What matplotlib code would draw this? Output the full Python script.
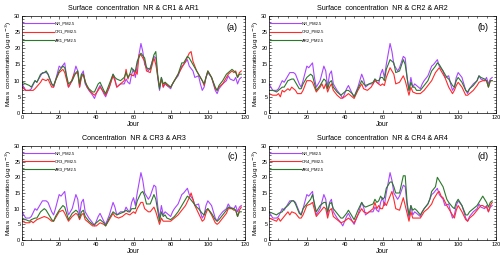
import matplotlib.pyplot as plt
from matplotlib.ticker import MultipleLocator

plt.rcParams['font.family'] = ['Liberation Sans', 'DejaVu Sans']

# ── data (day, value) ───────────────────────────────────────────────────
nr_days = [0, 2, 4, 5, 7, 8, 11, 13, 14, 16, 17, 18, 20, 21, 23, 24, 25, 27, 29, 30,
           31, 32, 33, 34, 36, 38, 39, 41, 42, 44, 45, 47, 49, 50, 51, 53, 55, 56, 57, 58,
           59, 60, 61, 62, 64, 65, 66, 68, 69, 71, 72, 73, 74, 75, 76, 77, 78, 80, 81, 82,
           84, 86, 87, 89, 90, 92, 93, 95, 96, 97, 98, 99, 100, 102, 104, 105, 106, 108,
           110, 111, 112, 114, 115, 116, 117, 118]
nr_vals = [9, 7, 7, 7.5, 10, 9.5, 12.5, 12.5, 12, 9, 8, 10, 14.5, 14, 15.5, 11, 8, 10, 14.5, 13,
           8, 12, 13, 9, 7, 5.5, 4.5, 7.5, 8.5, 6, 5, 8, 12, 10.5, 8, 9, 9, 10.5, 9.5, 9,
           12, 13.5, 11, 15, 21.5, 19, 15, 13, 14, 17.5, 17, 11, 7, 11, 8, 9, 8.5, 7.5, 9, 10,
           11.5, 14.5, 15, 16.5, 14.5, 13, 11, 11.5, 9, 7, 8, 11, 12.5, 11, 7, 6, 7.5, 9,
           10, 11.5, 10.5, 10, 11, 9, 10.5, 11]

cr1_days = [0, 2, 6, 7, 10, 11, 13, 14, 16, 17, 18, 20, 22, 23, 25, 26, 28, 30, 31, 32,
            33, 35, 37, 39, 41, 42, 44, 45, 47, 49, 50, 51, 53, 55, 56, 57, 58, 60, 61, 62,
            63, 64, 66, 67, 69, 71, 72, 74, 75, 76, 77, 78, 80, 82, 83, 84, 86, 87, 88, 90,
            91, 92, 94, 95, 97, 98, 99, 100, 102, 104, 105, 106, 108, 110, 111, 113, 114,
            115, 116, 117, 118]
cr1_vals = [8, 7, 7, 7.5, 9.5, 10.5, 10, 10.5, 8, 8, 10, 12.5, 13.5, 12.5, 8, 9, 12, 12.5, 8, 11,
            12, 8, 6.5, 5.5, 7, 8, 6.5, 5.5, 8, 11.5, 10, 8, 9, 10, 13.5, 10.5, 12, 11.5, 13, 12,
            18, 18, 16, 13, 12.5, 17, 15, 8, 10.5, 8, 9.5, 8.5, 8, 10, 11, 12, 14, 15, 16, 18.5,
            19, 16, 13, 12, 10, 8.5, 11, 13, 11, 7.5, 7, 8, 9, 11, 12, 13, 12.5,
            13, 11, 12.5, 13]

ar1_days = [0, 2, 4, 5, 7, 8, 10, 12, 13, 14, 16, 17, 18, 20, 22, 23, 25, 27, 29, 30,
            31, 32, 33, 34, 36, 38, 39, 41, 42, 44, 45, 47, 49, 50, 51, 53, 55, 56, 57, 58,
            59, 60, 61, 62, 64, 66, 67, 69, 71, 72, 73, 74, 75, 76, 77, 78, 80, 82, 83, 84,
            86, 87, 89, 90, 92, 94, 95, 97, 98, 99, 100, 102, 104, 105, 106, 108, 110, 111,
            113, 114, 115, 116, 117, 118]
ar1_vals = [9.5, 9, 8.5, 8, 10, 9.5, 12, 12.5, 13, 12, 9, 8.5, 10, 13, 14.5, 14, 9, 10, 12.5, 13,
            9, 12, 12, 9.5, 7.5, 6.5, 6.5, 9, 9.5, 7, 6, 9, 12, 11, 10.5, 10, 11, 12.5, 11, 12,
            14, 13, 13, 16, 18.5, 17, 14, 13.5, 18, 19, 12, 7.5, 11, 9, 9.5, 9, 8, 10, 11, 12,
            15.5, 15.5, 17.5, 17, 15, 13, 12, 10, 9, 11, 13, 11, 8, 7, 8.5, 10, 12, 12.5,
            13.5, 13, 12.5, 11, 12, 12]

cr2_days = [0, 2, 4, 5, 6, 7, 8, 10, 11, 12, 14, 15, 17, 18, 20, 22, 23, 25, 27, 28,
            29, 30, 31, 32, 33, 34, 36, 38, 40, 42, 44, 45, 47, 49, 50, 52, 54, 55, 56, 58,
            59, 60, 61, 62, 64, 66, 67, 69, 71, 72, 74, 75, 76, 78, 80, 82, 84, 86, 88, 90,
            91, 93, 95, 97, 98, 99, 100, 102, 104, 105, 106, 108, 110, 111, 113, 114, 115,
            116, 117, 118]
cr2_vals = [6, 5.5, 5.5, 6, 5, 7, 6.5, 7.5, 7, 8, 7, 6, 6, 7, 10, 10, 9.5, 6.5, 8, 9,
            7.5, 9, 6.5, 8, 9, 7, 5.5, 4.5, 5, 6, 5, 4.5, 7, 9, 7.5, 7, 8, 9, 10, 9,
            8.5, 9, 8.5, 11, 14, 12, 9, 9.5, 11.5, 10, 5.5, 8, 6.5, 6, 6, 7, 8.5, 10, 12.5, 14,
            13, 11, 8, 6, 7, 8.5, 9.5, 8, 5.5, 5.5, 6, 7, 8.5, 9.5, 10, 10, 10,
            8, 10, 10]

ar2_days = [0, 2, 4, 5, 7, 8, 10, 12, 13, 14, 16, 17, 18, 20, 22, 23, 25, 27, 29, 30,
            31, 32, 33, 34, 36, 38, 39, 41, 42, 44, 45, 47, 49, 50, 51, 53, 55, 56, 57, 58,
            59, 60, 61, 62, 64, 66, 67, 69, 71, 72, 74, 75, 76, 77, 78, 80, 82, 84, 86, 88,
            89, 90, 92, 94, 95, 97, 98, 99, 100, 102, 104, 105, 106, 108, 110, 111, 112, 114,
            115, 116, 117, 118]
ar2_vals = [7, 7, 6.5, 7, 8, 8, 10, 10.5, 10.5, 9.5, 7.5, 7.5, 9, 11, 12, 11.5, 7, 8.5, 10.5, 10,
            7.5, 9.5, 10, 8, 6.5, 5.5, 6, 7, 7, 6, 5, 7.5, 10, 9, 8.5, 9, 9.5, 10.5, 10, 10,
            11, 11, 10, 13.5, 16.5, 15.5, 12.5, 13, 16.5, 15, 7, 9.5, 8, 8, 7, 7, 8.5, 10, 13, 14.5,
            15.5, 15, 13, 11, 10.5, 8.5, 8, 10, 11, 9.5, 7, 6.5, 7.5, 8.5, 10, 11.5, 11, 10.5,
            10, 8, 10, 10]

cr3_days = [0, 2, 4, 5, 6, 8, 10, 12, 14, 16, 17, 18, 20, 22, 23, 25, 27, 29, 30, 31,
            32, 33, 34, 36, 38, 40, 42, 44, 45, 47, 49, 50, 52, 54, 55, 56, 58, 59, 60, 61,
            62, 64, 65, 66, 68, 69, 71, 72, 74, 75, 76, 78, 80, 82, 84, 86, 88, 90, 91, 92,
            93, 95, 97, 98, 99, 100, 102, 104, 105, 106, 108, 110, 111, 113, 114, 115, 116,
            117, 118]
cr3_vals = [6, 5.5, 5.5, 6, 5.5, 6.5, 7, 7.5, 7, 6, 6, 7, 9, 9.5, 8.5, 6, 7.5, 8.5, 8, 6.5,
            8, 8.5, 6.5, 5.5, 4.5, 4.5, 5.5, 5, 4.5, 6.5, 8.5, 7.5, 7, 7.5, 8, 8.5, 8, 8.5, 9, 8.5,
            10, 12, 12, 10, 9, 9, 10.5, 9, 5, 7, 6, 6, 6, 7, 8, 9.5, 11, 13.5, 15, 13,
            11, 8.5, 6, 6.5, 8.5, 10, 8, 5.5, 5, 5.5, 7, 8.5, 10, 10, 9.5, 9.5, 7.5,
            9.5, 10.5]

ar3_days = [0, 2, 4, 5, 7, 8, 10, 12, 13, 14, 16, 17, 18, 20, 22, 23, 25, 27, 29, 30,
            31, 32, 33, 34, 36, 38, 39, 41, 42, 44, 45, 47, 49, 50, 51, 53, 55, 56, 57, 58,
            59, 60, 61, 62, 64, 65, 66, 67, 69, 71, 72, 74, 75, 76, 77, 78, 80, 82, 84, 86,
            88, 89, 90, 92, 94, 95, 97, 98, 99, 100, 102, 104, 105, 106, 108, 110, 111, 113,
            114, 115, 116, 117, 118]
ar3_vals = [6.5, 6.5, 6, 6.5, 7, 7, 9, 10, 9.5, 8.5, 6.5, 6, 7.5, 9.5, 11, 10.5, 6.5, 8.5, 9.5, 9,
            7, 9, 9.5, 7.5, 6, 5, 5, 6, 6.5, 5.5, 4.5, 7, 9, 8.5, 8, 8.5, 9, 9.5, 9, 9,
            10, 10, 10, 12.5, 15, 15.5, 14, 11.5, 11.5, 14.5, 13, 6, 9, 7.5, 8, 7, 6.5, 7.5, 9, 11,
            13, 14, 13.5, 12, 10.5, 10, 8.5, 8, 9.5, 10, 8.5, 6.5, 6, 6.5, 8, 9.5, 10.5, 10,
            10, 9.5, 7.5, 9, 9]

cr4_days = [0, 2, 4, 5, 6, 8, 10, 11, 12, 14, 16, 17, 18, 20, 22, 23, 25, 27, 29, 30,
            31, 32, 33, 34, 36, 38, 40, 42, 44, 45, 47, 49, 50, 52, 54, 55, 56, 57, 58, 59,
            60, 61, 62, 64, 65, 66, 67, 69, 71, 72, 74, 75, 76, 78, 80, 82, 84, 86, 87, 89,
            90, 91, 92, 94, 95, 97, 98, 99, 100, 102, 104, 105, 106, 108, 110, 112, 113, 114,
            115, 116, 117, 118]
cr4_vals = [7, 6.5, 6, 7, 6, 7.5, 9, 8, 9, 8.5, 7, 7, 8, 11, 11.5, 12, 7.5, 9, 10.5, 10,
            7, 9.5, 10, 7.5, 6.5, 5.5, 6, 7, 6, 5.5, 8, 10, 9, 8.5, 9.5, 10, 12, 10, 11, 10,
            10, 12, 11, 14, 15.5, 13, 10, 9.5, 13.5, 11, 6, 9, 7, 7, 7, 9, 10, 11.5, 13, 15,
            15.5, 14, 13.5, 11, 10, 8, 7, 9.5, 11, 9, 6.5, 6, 7, 8, 9.5, 11, 11, 10.5,
            10.5, 9, 11, 12]

ar4_days = [0, 2, 4, 5, 7, 8, 10, 12, 13, 14, 16, 17, 18, 20, 22, 23, 25, 27, 29, 30,
            31, 32, 33, 34, 36, 38, 39, 41, 42, 44, 45, 47, 49, 50, 51, 53, 55, 56, 57, 58,
            59, 60, 61, 62, 64, 65, 66, 67, 69, 71, 72, 73, 74, 75, 76, 77, 78, 80, 82, 84,
            85, 86, 88, 89, 90, 92, 94, 95, 97, 98, 99, 100, 102, 104, 105, 106, 108, 110,
            111, 113, 114, 115, 116, 117, 118]
ar4_vals = [9, 8.5, 8, 8.5, 9, 10, 11, 12.5, 12.5, 11.5, 8.5, 8, 10, 11.5, 13, 14.5, 9, 11, 12, 12,
            9, 11.5, 12, 10, 8.5, 7, 7, 8.5, 9.5, 7.5, 6.5, 9.5, 12, 11, 10.5, 11, 11.5, 13, 12, 12.5,
            14, 13, 13.5, 16.5, 18.5, 18.5, 17, 15, 15, 20.5, 20.5, 12, 8, 11, 9.5, 10, 9.5, 8, 10, 11.5,
            13, 15.5, 17, 20, 19, 17, 13, 12, 10.5, 10, 12, 13, 11, 8, 8, 9, 10, 11,
            12, 14, 13, 12, 10.5, 12, 12.5]

panels = [
    ("Surface  concentration  NR & CR1 & AR1", "(a)", "1", cr1_days, cr1_vals, ar1_days, ar1_vals),
    ("Surface  concentration  NR & CR2 & AR2", "(b)", "2", cr2_days, cr2_vals, ar2_days, ar2_vals),
    ("Concentration  NR & CR3 & AR3", "(c)", "3", cr3_days, cr3_vals, ar3_days, ar3_vals),
    ("Surface  concentration  NR & CR4 & AR4", "(d)", "4", cr4_days, cr4_vals, ar4_days, ar4_vals),
]

C_NR = "#a845ff"
C_CR = "#ff2a2a"
C_AR = "#2b782b"

# axes rectangles in pixels (left, top, right, bottom) for a 500x263 figure
W, H = 500, 263
rects = [(22, 16, 245, 113), (269, 16, 496, 113),
         (22, 146, 245, 240), (269, 146, 496, 240)]

fig = plt.figure(figsize=(5.0, 2.63), dpi=100)
fig.patch.set_facecolor("white")

for (title, tag, n, cd, cv, ad, av), (l, t, r, b) in zip(panels, rects):
    ax = fig.add_axes([l / W, 1 - b / H, (r - l) / W, (b - t) / H])
    ax.plot(nr_days, nr_vals, color=C_NR, lw=0.8)
    ax.plot(cd, cv, color=C_CR, lw=0.8)
    ax.plot(ad, av, color=C_AR, lw=0.8)

    # legend drawn as lines + text in data coordinates
    for y, col, lab in [(27.7, C_NR, "NR_PM2.5"), (25.2, C_CR, f"CR{n}_PM2.5"),
                        (22.6, C_AR, f"AR{n}_PM2.5")]:
        ax.plot([0.5, 17], [y, y], color=col, lw=0.8)
        ax.text(17.5, y, lab, fontsize=3, va="center", ha="left")

    ax.text(116, 26.5, tag, fontsize=6.5, ha="right", va="center")

    ax.set_xlim(0, 120)
    ax.set_ylim(0, 30)
    ax.xaxis.set_major_locator(MultipleLocator(20))
    ax.xaxis.set_minor_locator(MultipleLocator(5))
    ax.yaxis.set_major_locator(MultipleLocator(5))
    ax.yaxis.set_minor_locator(MultipleLocator(1))
    ax.tick_params(which="both", direction="in", top=True, right=True,
                   labelsize=4, pad=1.2, width=0.4)
    ax.tick_params(which="major", length=2.5)
    ax.tick_params(which="minor", length=1.3)
    for s in ax.spines.values():
        s.set_linewidth(0.5)

    ax.set_title(title, fontsize=5.1, pad=4)
    ax.set_xlabel("Jour", fontsize=4.8, labelpad=1)
    ax.set_ylabel("Mass  concentration (µg m$^{-3}$)", fontsize=4.6, labelpad=0.3)

fig.savefig("out.png", dpi=100, facecolor="white")
